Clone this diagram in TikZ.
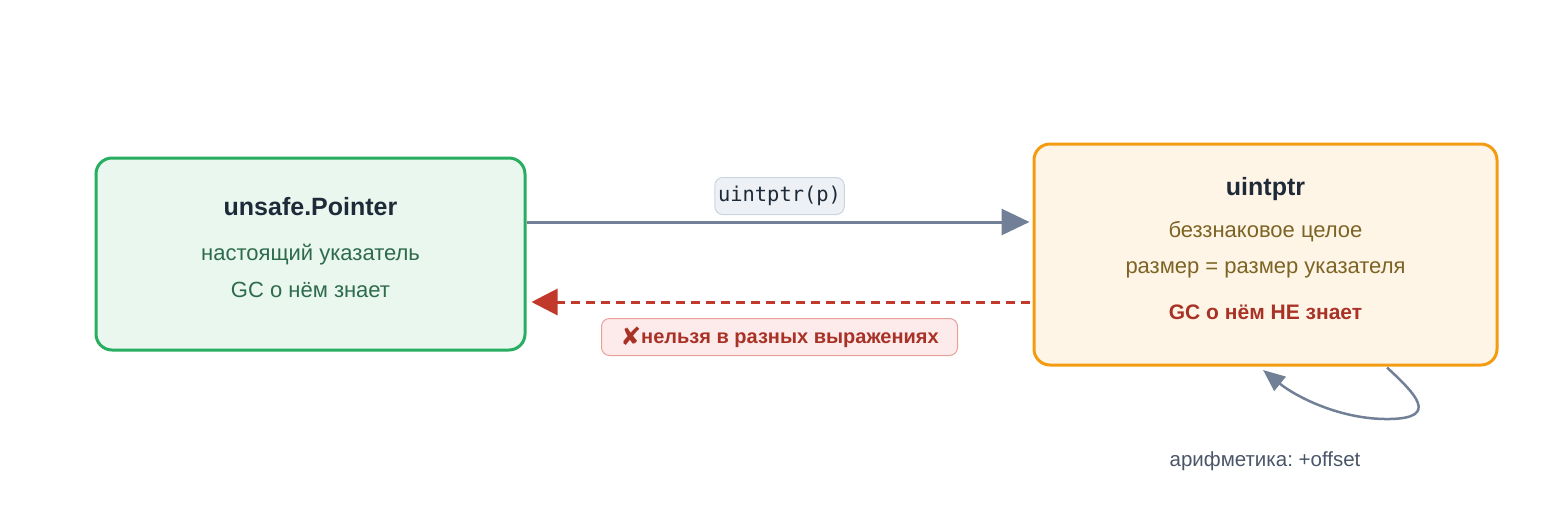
\documentclass[tikz,border=0pt]{standalone}
\usepackage{fontspec}
\setmainfont{Liberation Sans}
\setmonofont{DejaVu Sans Mono}
\newfontfamily\symfont{DejaVu Sans}
\usetikzlibrary{arrows.meta}
\frenchspacing

\definecolor{ptrgreen}{HTML}{27AE60}
\definecolor{ptrfill}{HTML}{E9F7EF}
\definecolor{ptrink}{HTML}{2E6B4A}
\definecolor{uintorange}{HTML}{F39C12}
\definecolor{uintfill}{HTML}{FEF5E7}
\definecolor{uintink}{HTML}{7D6424}
\definecolor{titleink}{HTML}{1E2A38}
\definecolor{warnred}{HTML}{A93226}
\definecolor{dashred}{HTML}{C0392B}
\definecolor{slate}{HTML}{718096}
\definecolor{noteink}{HTML}{4A5568}
\definecolor{codefill}{HTML}{EDF1F5}
\definecolor{codeline}{HTML}{CBD5E0}
\definecolor{badfill}{HTML}{FDEBEB}
\definecolor{badline}{HTML}{E8A09A}

\newcommand{\setfs}[1]{\fontsize{#1}{#1}\selectfont}

\begin{document}
\begin{tikzpicture}[x=1pt, y=-1pt,
    box/.style = {draw, rounded corners=16pt, line width=3pt},
    ptrbox/.style = {box, draw=ptrgreen, fill=ptrfill, minimum width=429pt, minimum height=192pt},
    uintbox/.style = {box, draw=uintorange, fill=uintfill, minimum width=463pt, minimum height=221pt},
    title/.style = {anchor=base, font=\setfs{25}\bfseries, text=titleink},
    ptrline/.style = {anchor=base, font=\setfs{22}, text=ptrink},
    uintline/.style = {anchor=base, font=\setfs{22}, text=uintink},
    conv/.style = {draw=slate, line width=3pt, -{Triangle[length=28pt, width=26pt]}},
    back/.style = {draw=dashred, line width=3pt, dash pattern=on 9pt off 6pt, -{Triangle[length=26pt, width=26pt]}},
    codebox/.style = {draw=codeline, fill=codefill, rounded corners=8pt, line width=1pt, solid,
                      minimum width=125pt, minimum height=37pt, font=\ttfamily\setfs{20.4}, text=titleink},
    badbox/.style = {draw=badline, fill=badfill, rounded corners=8pt, line width=1pt, solid,
                     minimum width=356pt, minimum height=37pt, font=\setfs{20}\bfseries, text=warnred}
]
\useasboundingbox (0,0) rectangle (1560,509);

% the two kinds of value
\node[ptrbox] (ptr) at (310.5,254) {};
\node[uintbox] (uint) at (1265.5,254.5) {};

\node[title] (ptrname) at (310.5,215) {unsafe.Pointer};
\node[ptrline] (ptr1) at (310.5,260) {настоящий указатель};
\node[ptrline] (ptr2) at (310.5,297) {GC о нём знает};

\node[title] (uintname) at (1265.5,195) {uintptr};
\node[uintline] (uint1) at (1265.5,237) {беззнаковое целое};
\node[uintline] (uint2) at (1265.5,273) {размер = размер указателя};
\node[anchor=base, font=\setfs{21}\bfseries, text=warnred] (uint3) at (1265.5,319) {GC о нём НЕ знает};

% conversions
\draw[conv, shorten >=3pt] ([yshift=32pt]ptr.east) -- node[midway, above=7pt, codebox] (cast) {uintptr(p)} ([yshift=32.5pt]uint.west);
\draw[back, shorten <=3pt, shorten >=5pt] ([yshift=-47.5pt]uint.west) -- node[midway, below=16pt, badbox] (nocast) {{\symfont\setfs{25}\raisebox{-2pt}{✘}}нельзя в разных выражениях} ([yshift=-48pt]ptr.east);

% arithmetic on the integer
\coordinate (loopbot) at (1390,419);
\draw[draw=slate, line width=2.5pt, -{Triangle[length=22pt, width=18pt]}]
    ([xshift=121.5pt, yshift=-1pt]uint.south) .. controls +(28,26) and +(50,-1) .. (loopbot)
    .. controls +(-50,1) and +(32,26) .. ([xshift=-2.5pt, yshift=-3.5pt]uint.south);
\node[anchor=base, font=\setfs{20.5}, text=noteink] (arith) at (1265,466) {арифметика: +offset};
\end{tikzpicture}
\end{document}
